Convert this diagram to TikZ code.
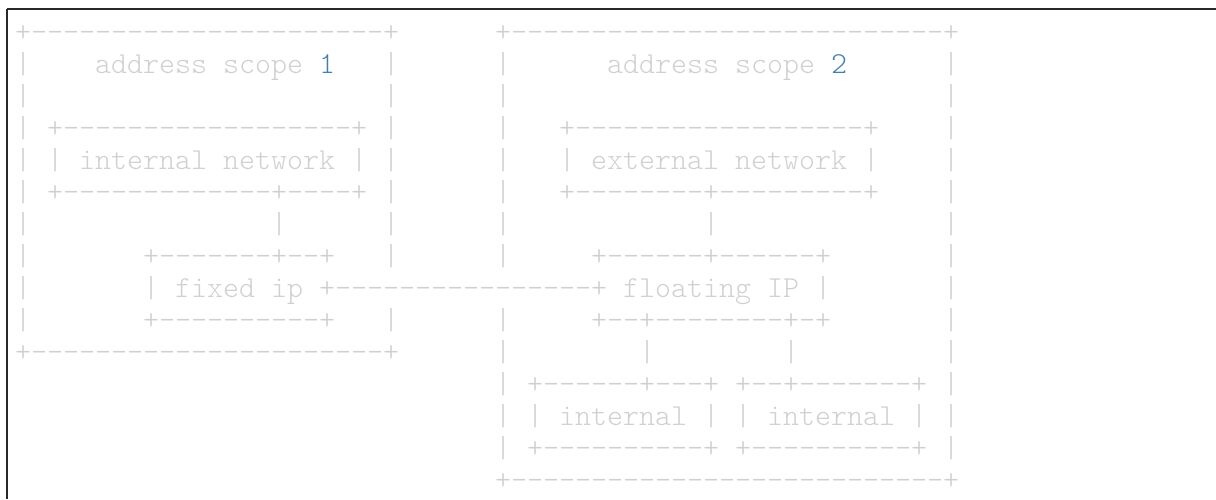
\documentclass[tikz,border=0pt]{standalone}
\usepackage{fontspec}
\setmonofont{lmmonolt10-regular.otf}
\definecolor{asciigray}{RGB}{208,208,208}
\definecolor{numblue}{RGB}{64,128,176}
\definecolor{framegray}{RGB}{40,40,40}
\newdimen\charw
\charw=16pt
\newcommand{\blank}[1]{\hspace{\dimexpr#1\charw\relax}}
\tikzset{
  asc/.style={anchor=base west, inner sep=0pt, text=asciigray,
    font=\ttfamily\fontsize{30.47}{32}\selectfont},
  frame/.style={draw=framegray, line width=2pt}
}
\frenchspacing
\begin{document}
\begin{tikzpicture}[x=1pt,y=-1pt]
  \useasboundingbox (0,0) rectangle (1216,499);
  % code block border
  \draw[frame] (7,9) -- (1216,9);
  \draw[frame] (7,9) -- (7,499);

  % the ascii drawing, one row per node
  \node[asc] (r0) at (15,41) {+----------------------+\blank{6}+---------------------------+};
  \node[asc] (r1) at (15,73) {|\blank{4}address scope {\color{numblue}1}\blank{3}|\blank{6}|\blank{6}address scope {\color{numblue}2}\blank{6}|};
  \node[asc] (r2) at (15,105) {|\blank{22}|\blank{6}|\blank{27}|};
  \node[asc] (r3) at (15,137) {| +------------------+ |\blank{6}|\blank{3}+------------------+\blank{4}|};
  \node[asc] (r4) at (15,169) {| | internal network | |\blank{6}|\blank{3}| external network |\blank{4}|};
  \node[asc] (r5) at (15,201) {| +-------------+----+ |\blank{6}|\blank{3}+--------+---------+\blank{4}|};
  \node[asc] (r6) at (15,233) {|\blank{15}|\blank{6}|\blank{6}|\blank{12}|\blank{14}|};
  \node[asc] (r7) at (15,265) {|\blank{7}+-------+--+\blank{3}|\blank{6}|\blank{5}+------+------+\blank{7}|};
  \node[asc] (r8) at (15,297) {|\blank{7}| fixed ip +----------------+ floating IP |\blank{7}|};
  \node[asc] (r9) at (15,329) {|\blank{7}+----------+\blank{3}|\blank{6}|\blank{5}+--+--------+-+\blank{7}|};
  \node[asc] (r10) at (15,361) {+----------------------+\blank{6}|\blank{8}|\blank{8}|\blank{9}|};
  \node[asc] (r11) at (15,393) {\blank{30}| +------+---+ +--+-------+ |};
  \node[asc] (r12) at (15,425) {\blank{30}| | internal | | internal | |};
  \node[asc] (r13) at (15,457) {\blank{30}| +----------+ +----------+ |};
  \node[asc] (r14) at (15,489) {\blank{30}+---------------------------+};
\end{tikzpicture}
\end{document}
